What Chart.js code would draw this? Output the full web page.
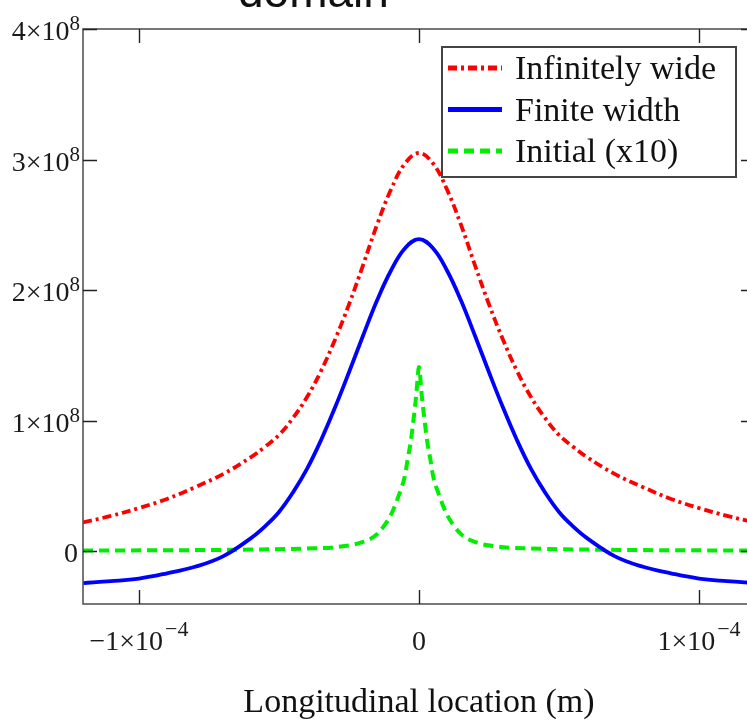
<!DOCTYPE html>
<html>
<head>
<meta charset="utf-8">
<script src="https://cdn.jsdelivr.net/npm/chart.js@4.4.1/dist/chart.umd.min.js"></script>
<style>
html,body{margin:0;padding:0;background:#fff;overflow:hidden}
canvas{display:block}
</style>
</head>
<body>
<canvas id="chart" width="762" height="723"></canvas>
<script>
// x in units of 1e-4 m, y in units of 1e8
const xWide=[-1.2,-1.1,-1.0,-0.9,-0.8,-0.7,-0.6,-0.55,-0.5,-0.45,-0.4,-0.35,-0.3,-0.25,-0.2,-0.15,-0.1,-0.05,0,0.05,0.1,0.15,0.2,0.25,0.3,0.35,0.4,0.45,0.5,0.55,0.6,0.7,0.8,0.9,1.0,1.1,1.2];
const infWide=[0.22,0.27,0.33,0.40,0.49,0.59,0.72,0.80,0.89,1.02,1.18,1.38,1.62,1.89,2.19,2.50,2.77,2.97,3.05,2.97,2.77,2.50,2.19,1.89,1.62,1.38,1.18,1.02,0.89,0.80,0.72,0.59,0.49,0.40,0.33,0.27,0.22];
const finiteW=[-0.245,-0.23,-0.21,-0.17,-0.12,-0.04,0.10,0.19,0.30,0.45,0.63,0.85,1.10,1.37,1.65,1.92,2.15,2.32,2.39,2.32,2.15,1.92,1.65,1.37,1.10,0.85,0.63,0.45,0.30,0.19,0.10,-0.04,-0.12,-0.17,-0.21,-0.23,-0.245];
const xInit=[-1.2,-1.0,-0.8,-0.6,-0.4,-0.3,-0.2,-0.15,-0.1,-0.07,-0.05,-0.04,-0.03,-0.02,-0.01,0,0.01,0.02,0.03,0.04,0.05,0.07,0.1,0.15,0.2,0.3,0.4,0.6,0.8,1.0,1.2];
const initial=[0.005,0.006,0.008,0.012,0.02,0.03,0.07,0.13,0.28,0.44,0.58,0.71,0.83,1.00,1.19,1.41,1.19,1.00,0.83,0.71,0.58,0.44,0.28,0.13,0.07,0.03,0.02,0.012,0.008,0.006,0.005];

const seriesNames=['Infinitely wide','Finite width','Initial (x10)'];
const yTicks=[0,1e8,2e8,3e8,4e8];
const yTickText=['0','1×10','2×10','3×10','4×10'];
const yTickSup=['','8','8','8','8'];
const xTicks=[-1e-4,0,1e-4];
const xTickText=['−1×10','0','1×10'];
const xTickSup=['−4','','−4'];

const pts=(xs,ys)=>xs.map((x,i)=>({x:x*1e-4,y:ys[i]*1e8}));
const serif='"Liberation Serif","Times New Roman",serif';

const framePlugin={
  id:'frame',
  afterDraw(chart){
    const ctx=chart.ctx, a=chart.chartArea, xs=chart.scales.x, ys=chart.scales.y;
    ctx.save();
    // title fragment cut by the top edge
    ctx.fillStyle='#111';
    ctx.font='46px "Liberation Sans",Arial,sans-serif';
    ctx.textAlign='left';ctx.textBaseline='alphabetic';
    ctx.fillText('domain',238,7);
    // box
    ctx.strokeStyle='#555';ctx.lineWidth=1.6;
    ctx.strokeRect(a.left,a.top,a.right-a.left,a.bottom-a.top);
    // inward ticks
    ctx.strokeStyle='#222';ctx.lineWidth=1.4;ctx.beginPath();
    yTicks.forEach(v=>{const p=Math.round(ys.getPixelForValue(v))+0.5;
      ctx.moveTo(a.left,p);ctx.lineTo(a.left+14,p);ctx.moveTo(a.right,p);ctx.lineTo(a.right-14,p);});
    xTicks.forEach(v=>{const p=Math.round(xs.getPixelForValue(v))+0.5;
      ctx.moveTo(p,a.bottom);ctx.lineTo(p,a.bottom-14);ctx.moveTo(p,a.top);ctx.lineTo(p,a.top+14);});
    ctx.stroke();
    // y tick labels
    ctx.fillStyle='#1a1a1a';
    yTicks.forEach((v,i)=>{
      const p=ys.getPixelForValue(v);
      ctx.font='21px '+serif;
      const sw=yTickSup[i]?ctx.measureText(yTickSup[i]).width:0;
      ctx.textAlign='right';
      if(sw) ctx.fillText(yTickSup[i],80,p+1);
      ctx.font='28px '+serif;
      ctx.fillText(yTickText[i],yTickSup[i]?80-sw:78,p+11);
    });
    // x tick labels
    xTicks.forEach((v,i)=>{
      const p=xs.getPixelForValue(v);
      ctx.font='28px '+serif;
      const mw=ctx.measureText(xTickText[i]).width;
      ctx.font='22px '+serif;
      const sw=xTickSup[i]?ctx.measureText(xTickSup[i]).width+2:0;
      const x0=p-(mw+sw)/2;
      ctx.textAlign='left';
      ctx.font='28px '+serif;
      ctx.fillText(xTickText[i],x0,650);
      if(sw){ctx.font='22px '+serif;ctx.fillText(xTickSup[i],x0+mw+2,636);}
    });
    // legend
    const lx=442,ly=47,lw=294,lh=130;
    ctx.fillStyle='#fff';ctx.fillRect(lx,ly,lw,lh);
    ctx.strokeStyle='#444';ctx.lineWidth=2;ctx.strokeRect(lx,ly,lw,lh);
    chart.data.datasets.forEach((ds,i)=>{
      const y=68+i*41.5;
      ctx.strokeStyle=ds.borderColor;ctx.lineWidth=ds.borderWidth+1;
      ctx.setLineDash(ds.borderDash||[]);
      ctx.beginPath();ctx.moveTo(448,y);ctx.lineTo(502,y);ctx.stroke();
      ctx.setLineDash([]);
      ctx.fillStyle='#111';ctx.font='34px '+serif;ctx.textAlign='left';
      ctx.fillText(ds.label,515,y+11);
    });
    ctx.restore();
  }
};

new Chart(document.getElementById('chart'),{
  type:'line',
  data:{datasets:[
    {label:seriesNames[0],data:pts(xWide,infWide),borderColor:'#ff0000',borderWidth:3.8,borderDash:[9,4,3,4],tension:0.4},
    {label:seriesNames[1],data:pts(xWide,finiteW),borderColor:'#0000ff',borderWidth:3.8,tension:0.4},
    {label:seriesNames[2],data:pts(xInit,initial),borderColor:'#00ee00',borderWidth:4,borderDash:[10,6],cubicInterpolationMode:'monotone'}
  ]},
  options:{
    responsive:false,animation:false,
    layout:{padding:{left:0,top:29,right:7,bottom:0}},
    elements:{point:{radius:0},line:{fill:false}},
    plugins:{legend:{display:false},tooltip:{enabled:false}},
    scales:{
      x:{type:'linear',min:-1.2e-4,max:1.2e-4,
        afterBuildTicks:s=>{s.ticks=xTicks.map(v=>({value:v}));},
        afterFit:s=>{s.height=119;},
        grid:{display:false},border:{display:false},ticks:{display:false},
        title:{display:true,text:'Longitudinal location (m)',color:'#111',
          font:{family:'Liberation Serif',size:34},padding:{top:0,bottom:0}}},
      y:{type:'linear',min:-0.405e8,max:4e8,
        afterBuildTicks:s=>{s.ticks=yTicks.map(v=>({value:v}));},
        afterFit:s=>{s.width=83;},
        grid:{display:false},border:{display:false},ticks:{display:false}}
    }
  },
  plugins:[framePlugin]
});
</script>
</body>
</html>
